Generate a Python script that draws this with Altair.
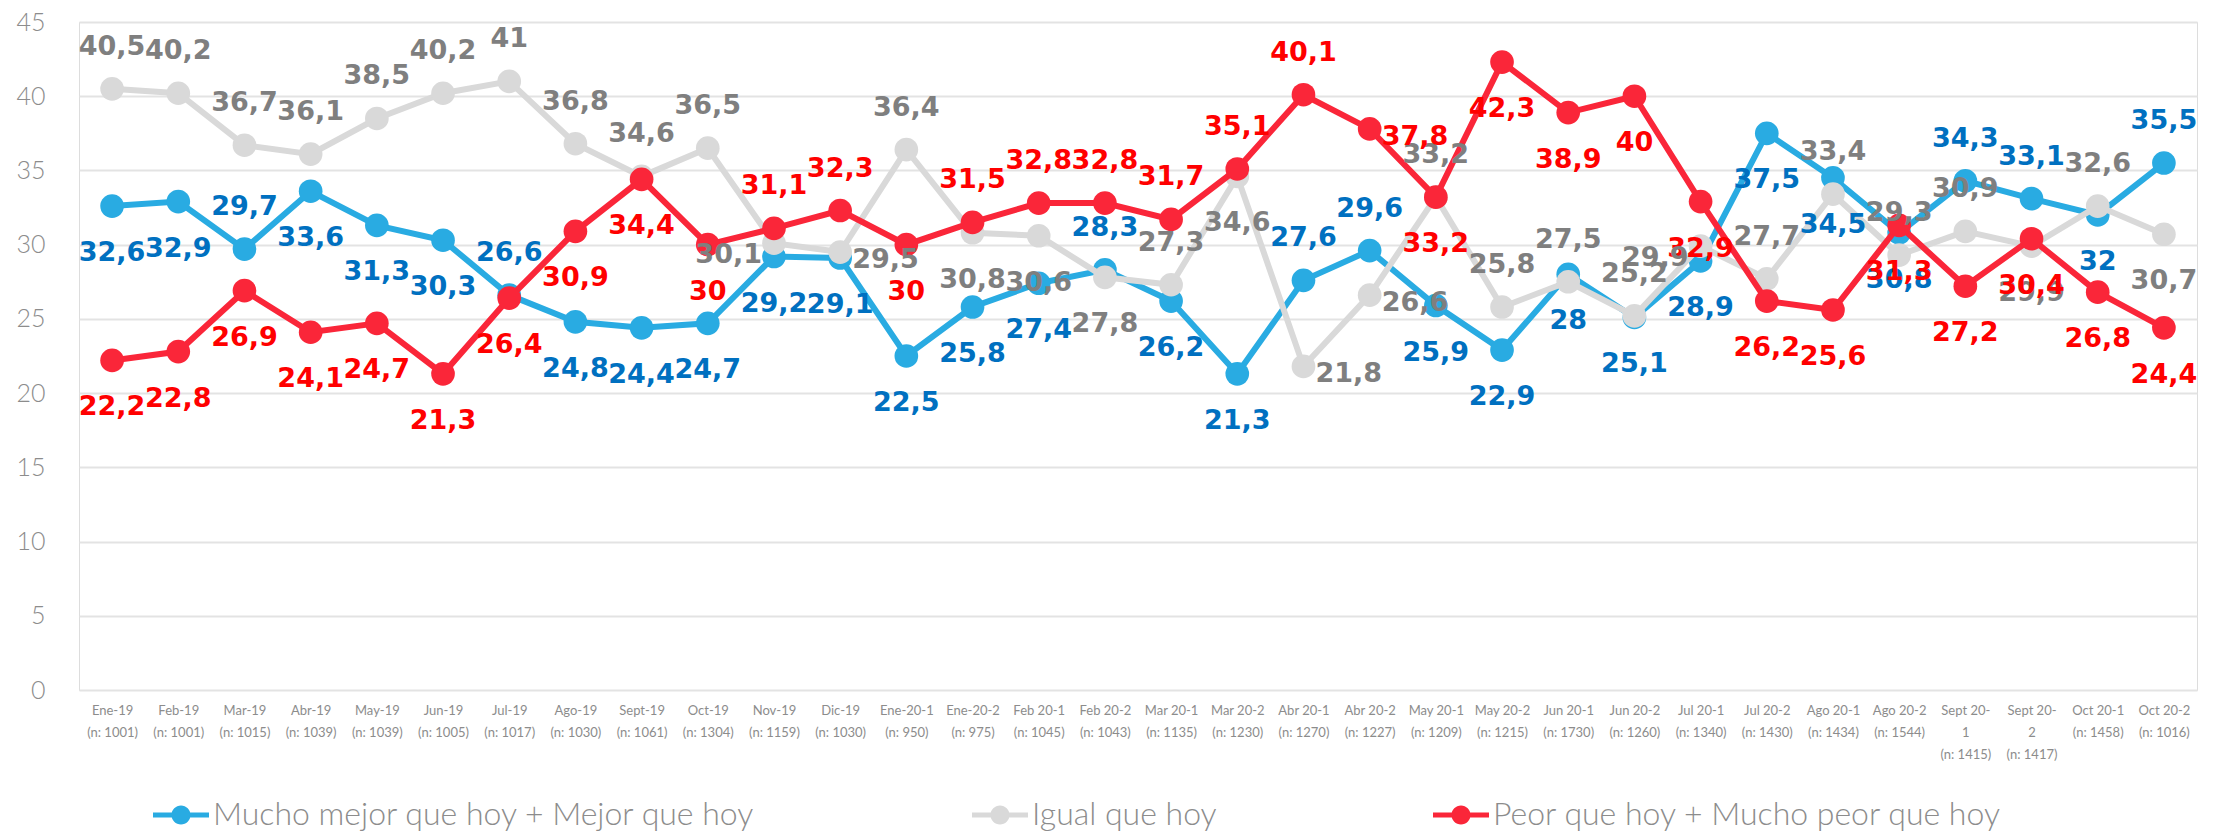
import altair as alt
import pandas as pd

categories = ["Ene-19", "Feb-19", "Mar-19", "Abr-19", "May-19", "Jun-19", "Jul-19", "Ago-19",
              "Sept-19", "Oct-19", "Nov-19", "Dic-19", "Ene-20-1", "Ene-20-2", "Feb 20-1",
              "Feb 20-2", "Mar 20-1", "Mar 20-2", "Abr 20-1", "Abr 20-2", "May 20-1", "May 20-2",
              "Jun 20-1", "Jun 20-2", "Jul 20-1", "Jul 20-2", "Ago 20-1", "Ago 20-2", "Sept 20-1",
              "Sept 20-2", "Oct 20-1", "Oct 20-2"]
sample_n = [1001, 1001, 1015, 1039, 1039, 1005, 1017, 1030, 1061, 1304, 1159, 1030, 950, 975,
            1045, 1043, 1135, 1230, 1270, 1227, 1209, 1215, 1730, 1260, 1340, 1430, 1434, 1544,
            1415, 1417, 1458, 1016]

series_names = ["Mucho mejor que hoy + Mejor que hoy", "Igual que hoy",
                "Peor que hoy + Mucho peor que hoy"]

mejor = [32.6, 32.9, 29.7, 33.6, 31.3, 30.3, 26.6, 24.8, 24.4, 24.7, 29.2, 29.1, 22.5, 25.8,
         27.4, 28.3, 26.2, 21.3, 27.6, 29.6, 25.9, 22.9, 28, 25.1, 28.9, 37.5, 34.5, 30.8,
         34.3, 33.1, 32, 35.5]
igual = [40.5, 40.2, 36.7, 36.1, 38.5, 40.2, 41, 36.8, 34.6, 36.5, 30.1, 29.5, 36.4, 30.8,
         30.6, 27.8, 27.3, 34.6, 21.8, 26.6, 33.2, 25.8, 27.5, 25.2, 29.9, 27.7, 33.4, 29.3,
         30.9, 29.9, 32.6, 30.7]
peor = [22.2, 22.8, 26.9, 24.1, 24.7, 21.3, 26.4, 30.9, 34.4, 30, 31.1, 32.3, 30, 31.5,
        32.8, 32.8, 31.7, 35.1, 40.1, 37.8, 33.2, 42.3, 38.9, 40, 32.9, 26.2, 25.6, 31.3,
        27.2, 30.4, 26.8, 24.4]

# label placement: a = above, b = below, l = left, r = right
mejor_pos = ["b", "b", "a", "b", "b", "b", "a", "b", "b", "b", "b", "b", "b", "b", "b", "a",
             "b", "b", "a", "a", "b", "b", "b", "b", "b", "b", "b", "b", "a", "a", "b", "a"]
igual_pos = ["a", "a", "a", "a", "a", "a", "a", "a", "a", "a", "l", "r", "a", "b", "b", "b",
             "a", "b", "r", "r", "a", "a", "a", "a", "l", "a", "a", "a", "a", "b", "a", "b"]
peor_pos = ["b", "b", "b", "b", "b", "b", "b", "b", "b", "b", "a", "a", "b", "a", "a", "a",
            "a", "a", "a", "r", "b", "b", "b", "b", "b", "b", "b", "b", "b", "b", "b", "b"]

line_colors = ["#29ABE2", "#D9D9D9", "#FA2639"]
text_colors = ["#0070C0", "#7F7F7F", "#FF0000"]


def tick_label(cat, n):
    return cat.replace("Sept 20-", "Sept 20-|") + "|(n: " + str(n) + ")"


ticks = [tick_label(c, n) for c, n in zip(categories, sample_n)]

rows = []
for s, vals, poss, tc in zip(series_names, [mejor, igual, peor],
                             [mejor_pos, igual_pos, peor_pos], text_colors):
    for t, v, p in zip(ticks, vals, poss):
        rows.append({"tick": t, "series": s, "value": v,
                     "txt": f"{v:g}".replace(".", ","), "pos": p, "tcolor": tc})
df = pd.DataFrame(rows)

x_enc = alt.X("tick:N", sort=ticks, scale=alt.Scale(type="point", padding=0.5),
              axis=alt.Axis(title=None, labelExpr="split(datum.label, '|')", labelAngle=0,
                            domain=False, ticks=False, grid=False, labelFont="Lato",
                            labelFontSize=13, labelColor="#8c8c8c", labelPadding=14,
                            labelLineHeight=22))
y_enc = alt.Y("value:Q", scale=alt.Scale(domain=[0, 45], nice=False, zero=True),
              axis=alt.Axis(values=list(range(0, 50, 5)), title=None, domain=False,
                            ticks=False, grid=True, gridColor="#e3e3e3", gridWidth=2,
                            labelFont="Lato", labelFontSize=25, labelFontWeight=300,
                            labelColor="#8c8c8c", labelPadding=34))

legend_path = ("M-1,-0.09H1V0.09H-1Z"
               "M0.34,0A0.34,0.34 0 1,1 -0.34,0A0.34,0.34 0 1,1 0.34,0Z")

legend = alt.Legend(title=None, orient="none", legendX=74, legendY=765,
                    direction="horizontal", symbolType=legend_path, symbolSize=3136,
                    symbolStrokeWidth=0, symbolOpacity=1, labelFont="Lato",
                    labelFontSize=32, labelFontWeight=300, labelColor="#8c8c8c",
                    labelOffset=4, columnPadding=216, labelLimit=1000)

color_enc = alt.Color("series:N", scale=alt.Scale(domain=series_names, range=line_colors),
                      sort=series_names, legend=legend)

base = alt.Chart(df)
layers = []
for s in series_names:
    sub = base.transform_filter(alt.datum.series == s)
    layers.append(sub.mark_line(strokeWidth=6).encode(x=x_enc, y=y_enc, color=color_enc))
    layers.append(sub.mark_point(filled=True, size=560, opacity=1).encode(
        x=x_enc, y=y_enc, color=color_enc))

placements = {
    "a": dict(dy=-42, dx=0, align="center"),
    "b": dict(dy=47, dx=0, align="center"),
    "l": dict(dy=12, dx=-12, align="right"),
    "r": dict(dy=8, dx=12, align="left"),
}
for code, kw in placements.items():
    layers.append(base.transform_filter(alt.datum.pos == code).mark_text(
        baseline="middle", font="DejaVu Sans", fontWeight="bold", fontSize=27, **kw
    ).encode(x=x_enc, y=y_enc, text="txt:N", color=alt.Color("tcolor:N", scale=None)))

chart = alt.layer(*layers).properties(
    width=2118, height=668,
    padding={"left": 71, "top": 14, "right": 16, "bottom": 142},
    autosize="none",
).configure_view(stroke=None).configure(background="white")

chart.save("out.html", embed_options={"renderer": "svg", "actions": False})
